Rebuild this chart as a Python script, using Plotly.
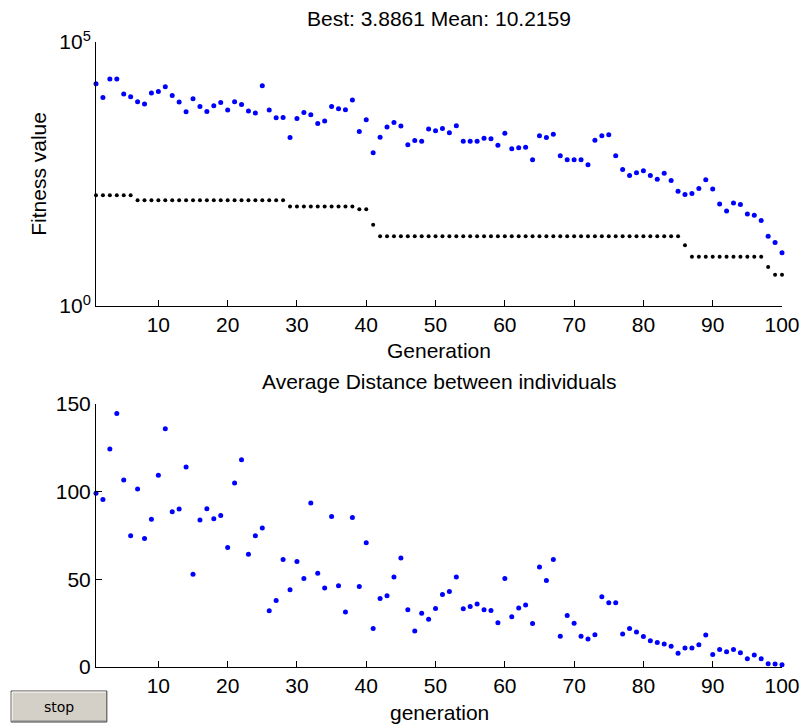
import plotly.graph_objects as go

# ---------------- data ----------------
generation = list(range(1, 101))

best_fitness = [
    125, 125, 125, 125, 125, 125, 101, 101, 101, 101,
    101, 101, 101, 101, 101, 101, 101, 101, 101, 101,
    101, 101, 101, 101, 101, 101, 101, 101, 76.4, 76.4,
    76.4, 76.4, 76.4, 76.4, 76.4, 76.4, 76.4, 76.4, 68.1, 68.1,
    34.4, 20.9, 20.9, 20.9, 20.9, 20.9, 20.9, 20.9, 20.9, 20.9,
    20.9, 20.9, 20.9, 20.9, 20.9, 20.9, 20.9, 20.9, 20.9, 20.9,
    20.9, 20.9, 20.9, 20.9, 20.9, 20.9, 20.9, 20.9, 20.9, 20.9,
    20.9, 20.9, 20.9, 20.9, 20.9, 20.9, 20.9, 20.9, 20.9, 20.9,
    20.9, 20.9, 20.9, 20.9, 20.9, 14.1, 8.61, 8.61, 8.61, 8.61,
    8.61, 8.61, 8.61, 8.61, 8.61, 8.61, 8.61, 5.48, 3.8861, 3.8861,
]

mean_fitness = [
    16180, 8913, 19860, 19860, 10300, 9183, 7379, 6668, 10760, 11590,
    14220, 9727, 7278, 4764, 8414, 6026, 4842, 6194, 7161, 5129,
    7379, 6561, 4909, 4498, 14830, 5129, 3673, 3724, 1556, 3565,
    4634, 4188, 2864, 3177, 6026, 5433, 5200, 7943, 2023, 3365,
    796, 1578, 2443, 2992, 2553, 1130, 1365, 1324, 2239, 2080,
    2301, 1905, 2588, 1324, 1324, 1324, 1510, 1466, 1112, 1879,
    948, 991, 1019, 586, 1671, 1556, 1799, 698, 586, 586,
    586, 472, 1384, 1671, 1746, 698, 385, 296, 333, 363,
    296, 252, 327, 238, 149, 129, 135, 168, 245, 165,
    85.9, 63.2, 89.7, 83.4, 55.5, 52.4, 41.5, 20.9, 15.9, 10.2159,
]

avg_distance = [
    99.1, 95.5, 124.3, 144.6, 106.7, 74.8, 101.5, 73.3, 84.3, 109.3,
    135.9, 88.6, 90.1, 114.1, 52.9, 83.9, 90.3, 84.6, 86.4, 68.1,
    105.0, 118.2, 64.3, 74.8, 79.3, 32.1, 37.9, 61.3, 44.0, 60.2,
    50.5, 93.6, 53.5, 45.0, 85.8, 46.3, 31.3, 85.2, 45.9, 70.8,
    22.0, 39.1, 40.6, 51.4, 62.1, 32.6, 20.5, 30.7, 27.3, 33.4,
    41.4, 43.1, 51.4, 33.2, 34.5, 35.9, 32.6, 32.2, 25.2, 50.5,
    28.6, 33.6, 35.3, 24.8, 57.1, 49.3, 61.3, 17.6, 29.4, 25.0,
    17.6, 15.9, 18.4, 40.0, 36.6, 36.6, 18.8, 22.0, 19.9, 17.4,
    15.0, 14.0, 13.1, 11.9, 7.8, 10.8, 10.8, 12.7, 18.2, 7.2,
    10.0, 8.7, 10.0, 8.1, 4.7, 6.8, 4.7, 1.9, 1.7, 1.3,
]

x_ticks = [10, 20, 30, 40, 50, 60, 70, 80, 90, 100]
fit_tickvals = [1, 100000]
fit_ticktext = ["10<sup>0</sup>", "10<sup>5</sup>"]
dist_ticks = [0, 50, 100, 150]

title_top = "Best: 3.8861 Mean: 10.2159"
title_bottom = "Average Distance between individuals"
xlabel_top = "Generation"
xlabel_bottom = "generation"
ylabel_top = "Fitness value"
button_text = "stop"

# ---------------- layout helpers ----------------
W, H = 812, 725
ML, MR, MT, MB = 96, 21, 42, 58
PW, PH = W - ML - MR, H - MT - MB


def px(x):
    return (x - ML) / PW


def py(y):
    return (H - MB - y) / PH


FONT = "Liberation Sans, Arial, Helvetica, sans-serif"

fig = go.Figure()

fig.add_trace(go.Scatter(
    x=generation, y=best_fitness, mode="markers",
    marker=dict(color="black", size=4), xaxis="x", yaxis="y",
    cliponaxis=False, showlegend=False, name="Best"))
fig.add_trace(go.Scatter(
    x=generation, y=mean_fitness, mode="markers",
    marker=dict(color="#0000ff", size=5), xaxis="x", yaxis="y",
    cliponaxis=False, showlegend=False, name="Mean"))
fig.add_trace(go.Scatter(
    x=generation, y=avg_distance, mode="markers",
    marker=dict(color="#0000ff", size=5), xaxis="x2", yaxis="y2",
    cliponaxis=False, showlegend=False, name="Distance"))

axis_common = dict(
    showline=True, linecolor="black", linewidth=1, mirror=False,
    ticks="inside", ticklen=6, tickwidth=1, tickcolor="black",
    showgrid=False, zeroline=False,
    tickfont=dict(family=FONT, size=21, color="black"),
)

top_dom = [py(306), 1.0]
bot_dom = [0.0, py(404)]

fig.update_layout(
    width=W, height=H,
    margin=dict(l=ML, r=MR, t=MT, b=MB, pad=0),
    paper_bgcolor="white", plot_bgcolor="white",
    font=dict(family=FONT, size=21, color="black"),
    xaxis=dict(axis_common, domain=[0, 1], range=[1, 100],
               tickvals=x_ticks, anchor="y"),
    yaxis=dict(axis_common, domain=top_dom, type="log", range=[0, 5],
               tickvals=fit_tickvals, ticktext=fit_ticktext, anchor="x"),
    xaxis2=dict(axis_common, domain=[0, 1], range=[1, 100],
                tickvals=x_ticks, anchor="y2"),
    yaxis2=dict(axis_common, domain=bot_dom, range=[0, 150],
                tickvals=dist_ticks, anchor="x2"),
)

ann = dict(xref="paper", yref="paper", showarrow=False,
           xanchor="center", yanchor="middle",
           font=dict(family=FONT, size=21, color="black"))
fig.add_annotation(ann, x=px(443.5), y=py(18), text=title_top)
fig.add_annotation(ann, x=px(443.5), y=py(350), text=xlabel_top)
fig.add_annotation(ann, x=px(443.5), y=py(381), text=title_bottom)
fig.add_annotation(ann, x=px(443.5), y=py(712), text=xlabel_bottom)
fig.add_annotation(ann, x=px(37), y=py(174), text=ylabel_top, textangle=-90)

# stop button
bx0, bx1, by0, by1 = 10, 107, 691, 722
fig.add_shape(type="rect", xref="paper", yref="paper",
              x0=px(bx0), x1=px(bx1), y0=py(by1), y1=py(by0),
              fillcolor="#d4d0c8", line=dict(color="#404040", width=1))
fig.add_shape(type="line", xref="paper", yref="paper",
              x0=px(bx0 + 1), x1=px(bx1 - 1), y0=py(by0 + 1), y1=py(by0 + 1),
              line=dict(color="white", width=1))
fig.add_shape(type="line", xref="paper", yref="paper",
              x0=px(bx0 + 1), x1=px(bx0 + 1), y0=py(by1 - 1), y1=py(by0 + 1),
              line=dict(color="white", width=1))
fig.add_shape(type="line", xref="paper", yref="paper",
              x0=px(bx0 + 1), x1=px(bx1 - 1), y0=py(by1 - 1), y1=py(by1 - 1),
              line=dict(color="#808080", width=1))
fig.add_annotation(xref="paper", yref="paper", showarrow=False,
                   xanchor="center", yanchor="middle",
                   x=px((bx0 + bx1) / 2), y=py((by0 + by1) / 2), text=button_text,
                   font=dict(family="DejaVu Sans, sans-serif", size=14, color="black"))

fig.write_html("out.html",
               config={"displayModeBar": False},
               post_script="document.body.style.margin='0';document.body.style.overflow='hidden';")
